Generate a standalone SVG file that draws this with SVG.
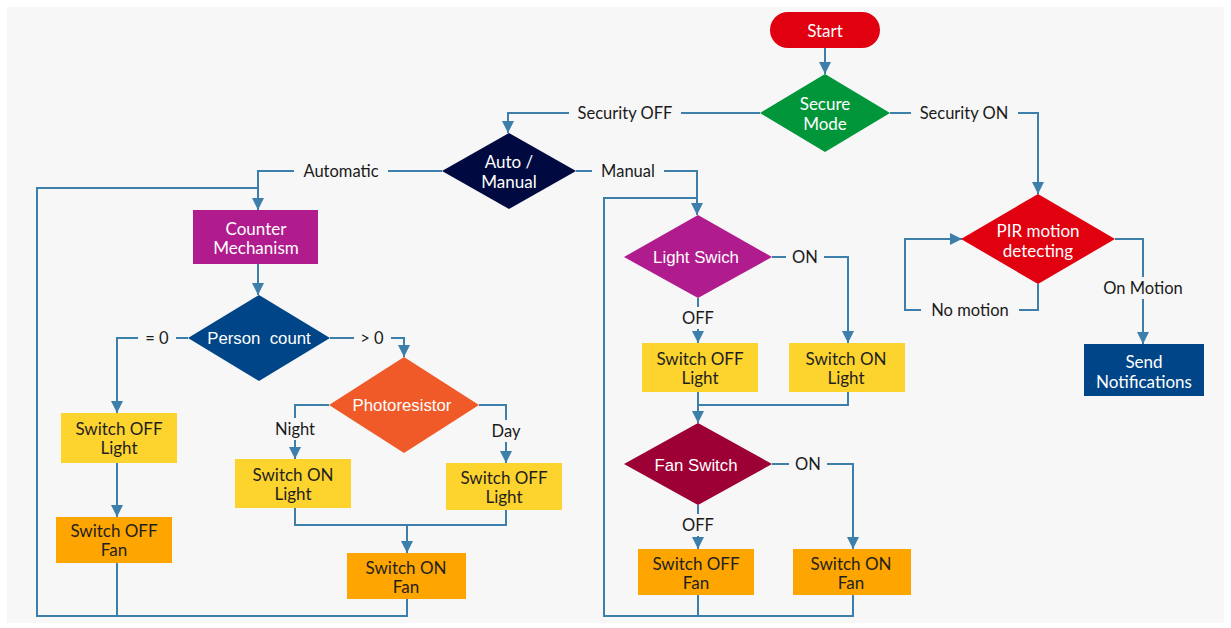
<svg xmlns="http://www.w3.org/2000/svg" width="1231" height="628" viewBox="0 0 1231 628">
<defs>
<marker id="arr" markerUnits="userSpaceOnUse" markerWidth="14" markerHeight="12" refX="12" refY="6" orient="auto">
<path d="M0,0 L12,6 L0,12 Z" fill="#3d7fab"/>
</marker>
<style>
.bg{fill:#f7f7f7}
.c{fill:none;stroke:#3d7fab;stroke-width:2}
.lb{fill:#f7f7f7}
.lt{font-family:Lato,"Liberation Sans",sans-serif;font-size:16.5px;fill:#1a1a1a;text-anchor:middle;dominant-baseline:central}
.nt{font-family:Lato,"Liberation Sans",sans-serif;font-size:17px;text-anchor:middle;dominant-baseline:central}
.at{font-family:"Liberation Sans",Arial,sans-serif;font-size:16.8px;text-anchor:middle;dominant-baseline:central}
.w{fill:#ffffff}
.d{fill:#1f1f1f}
.yel{fill:#fdd32e}
.org{fill:#fea500}
</style>
</defs>
<rect width="1231" height="628" fill="#ffffff"/>
<rect class="bg" x="7" y="7" width="1217" height="616"/>

<g id="connectors">
<path class="c" d="M825,48 V74" marker-end="url(#arr)"/>
<path class="c" d="M760,113 H508 V133" marker-end="url(#arr)"/>
<path class="c" d="M890,113 H1038 V194" marker-end="url(#arr)"/>
<path class="c" d="M442,171 H258 V210" marker-end="url(#arr)"/>
<path class="c" d="M576,171 H697 V215" marker-end="url(#arr)"/>
<path class="c" d="M258,264 V295" marker-end="url(#arr)"/>
<path class="c" d="M188,338 H117 V413" marker-end="url(#arr)"/>
<path class="c" d="M330,338 H404 V357" marker-end="url(#arr)"/>
<path class="c" d="M329,405 H295 V459" marker-end="url(#arr)"/>
<path class="c" d="M479,405 H506 V463" marker-end="url(#arr)"/>
<path class="c" d="M117,463 V517" marker-end="url(#arr)"/>
<path class="c" d="M295,508 V525 H506 V510"/>
<path class="c" d="M407,525 V553" marker-end="url(#arr)"/>
<path class="c" d="M407,599 V616 H37 V188 H258"/>
<path class="c" d="M117,563 V616"/>
<path class="c" d="M772,257 H848 V343" marker-end="url(#arr)"/>
<path class="c" d="M698,298 V343" marker-end="url(#arr)"/>
<path class="c" d="M698,392 V405 H848 V392"/>
<path class="c" d="M698,405 V423" marker-end="url(#arr)"/>
<path class="c" d="M772,464 H853 V549" marker-end="url(#arr)"/>
<path class="c" d="M698,505 V549" marker-end="url(#arr)"/>
<path class="c" d="M698,595 V616"/>
<path class="c" d="M853,595 V616 H604 V198 H697"/>
<path class="c" d="M1038,284 V310 H905 V239 H962" marker-end="url(#arr)"/>
<path class="c" d="M1115,239 H1143 V344" marker-end="url(#arr)"/>
</g>

<g id="labels">
<rect class="lb" x="569" y="103" width="112" height="20"/><text class="lt" x="625" y="113">Security OFF</text>
<rect class="lb" x="911" y="103" width="107" height="20"/><text class="lt" x="964" y="113">Security ON</text>
<rect class="lb" x="294" y="161" width="94" height="20"/><text class="lt" x="341" y="171">Automatic</text>
<rect class="lb" x="592" y="161" width="72" height="20"/><text class="lt" x="628" y="171">Manual</text>
<rect class="lb" x="138" y="328" width="38" height="20"/><text class="lt" x="157" y="338">= 0</text>
<rect class="lb" x="354" y="328" width="37" height="20"/><text class="lt" x="372" y="338">&gt; 0</text>
<rect class="lb" x="268" y="418" width="54" height="22"/><text class="lt" x="295" y="429">Night</text>
<rect class="lb" x="485" y="420" width="42" height="22"/><text class="lt" x="506" y="431">Day</text>
<rect class="lb" x="786" y="247" width="38" height="20"/><text class="lt" x="805" y="257">ON</text>
<rect class="lb" x="679" y="307" width="38" height="22"/><text class="lt" x="698" y="318">OFF</text>
<rect class="lb" x="789" y="454" width="38" height="20"/><text class="lt" x="808" y="464">ON</text>
<rect class="lb" x="679" y="514" width="38" height="22"/><text class="lt" x="698" y="525">OFF</text>
<rect class="lb" x="921" y="300" width="98" height="20"/><text class="lt" x="970" y="310">No motion</text>
<rect class="lb" x="1096" y="277" width="96" height="22"/><text class="lt" x="1143" y="288">On Motion</text>
</g>

<g id="start"><rect x="770" y="12" width="110" height="36" rx="18" fill="#e0000f"/><text class="nt w" x="825" y="30">Start</text></g>
<g id="secure-mode"><polygon points="825,74 890,113 825,152 760,113" fill="#009639"/><text class="nt w" x="825" y="103">Secure</text><text class="nt w" x="825" y="123">Mode</text></g>
<g id="auto-manual"><polygon points="509,133 576,171 509,209 442,171" fill="#000a40"/><text class="nt w" x="509" y="161">Auto /</text><text class="nt w" x="509" y="181">Manual</text></g>
<g id="counter"><rect x="193" y="210" width="125" height="54" fill="#b01c8e"/><text class="nt w" x="256" y="228">Counter</text><text class="nt w" x="256" y="247">Mechanism</text></g>
<g id="person-count"><polygon points="259,295 330,338 259,381 188,338" fill="#004587"/><text class="at w" x="259" y="338" xml:space="preserve">Person  count</text></g>
<g id="photoresistor"><polygon points="404,357 479,405 404,453 329,405" fill="#f05a28"/><text class="at w" x="402" y="405">Photoresistor</text></g>
<g id="auto-off-light"><rect class="yel" x="61" y="413" width="116" height="50"/><text class="nt d" x="119" y="428.5">Switch OFF</text><text class="nt d" x="119" y="447.5">Light</text></g>
<g id="auto-off-fan"><rect class="org" x="56" y="517" width="116" height="46"/><text class="nt d" x="114" y="530.5">Switch OFF</text><text class="nt d" x="114" y="549.5">Fan</text></g>
<g id="auto-on-light"><rect class="yel" x="235" y="459" width="116" height="49"/><text class="nt d" x="293" y="474.5">Switch ON</text><text class="nt d" x="293" y="493.5">Light</text></g>
<g id="auto-day-off-light"><rect class="yel" x="446" y="463" width="116" height="47"/><text class="nt d" x="504" y="477">Switch OFF</text><text class="nt d" x="504" y="496">Light</text></g>
<g id="auto-on-fan"><rect class="org" x="347" y="553" width="119" height="46"/><text class="nt d" x="406" y="567.5">Switch ON</text><text class="nt d" x="406" y="586.5">Fan</text></g>
<g id="light-switch"><polygon points="698,215 772,257 698,298 624,257" fill="#b01c8e"/><text class="at w" x="696" y="257">Light Swich</text></g>
<g id="man-off-light"><rect class="yel" x="642" y="343" width="116" height="49"/><text class="nt d" x="700" y="358.5">Switch OFF</text><text class="nt d" x="700" y="377.5">Light</text></g>
<g id="man-on-light"><rect class="yel" x="789" y="343" width="116" height="49"/><text class="nt d" x="846" y="358.5">Switch ON</text><text class="nt d" x="846" y="377.5">Light</text></g>
<g id="fan-switch"><polygon points="698,423 772,464 698,505 624,464" fill="#9c0034"/><text class="at w" x="696" y="465">Fan Switch</text></g>
<g id="man-off-fan"><rect class="org" x="638" y="549" width="116" height="46"/><text class="nt d" x="696" y="563.5">Switch OFF</text><text class="nt d" x="696" y="582.5">Fan</text></g>
<g id="man-on-fan"><rect class="org" x="793" y="549" width="118" height="46"/><text class="nt d" x="851" y="563.5">Switch ON</text><text class="nt d" x="851" y="582.5">Fan</text></g>
<g id="pir"><polygon points="1038,194 1115,239 1038,284 961,239" fill="#e0000f"/><text class="nt w" x="1038" y="230">PIR motion</text><text class="nt w" x="1038" y="250">detecting</text></g>
<g id="send-notifications"><rect x="1084" y="344" width="120" height="52" fill="#004587"/><text class="nt w" x="1144" y="361">Send</text><text class="nt w" x="1144" y="381">Notifications</text></g>
</svg>
